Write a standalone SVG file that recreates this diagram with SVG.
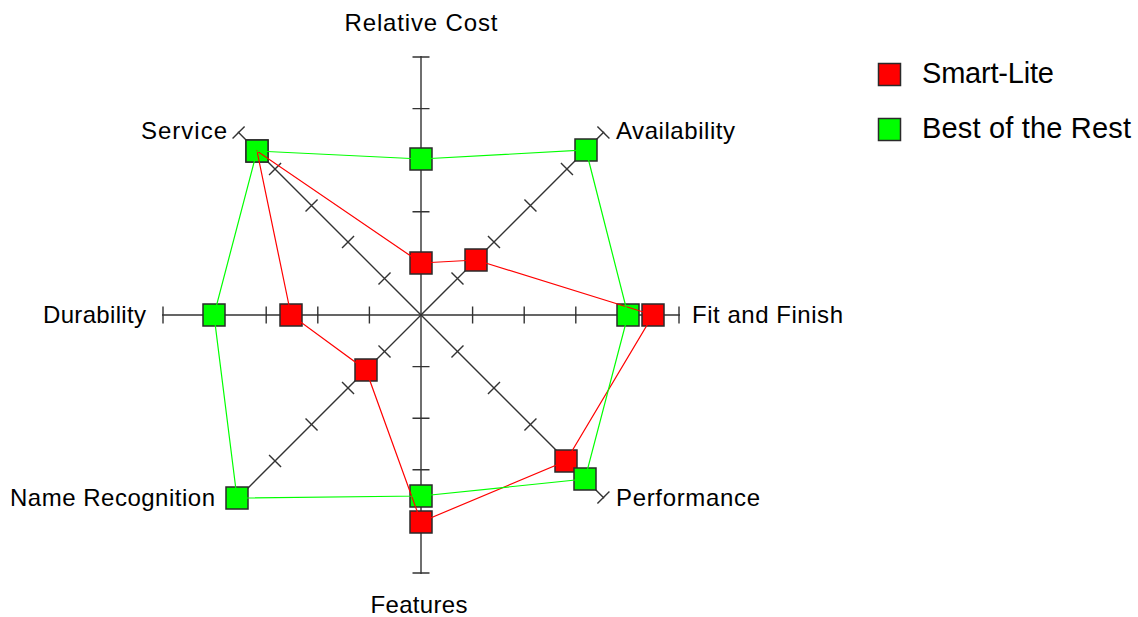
<svg xmlns="http://www.w3.org/2000/svg" xmlns:xlink="http://www.w3.org/1999/xlink" width="1138" height="617" viewBox="0 0 1138 617">
  <style>
    .axis { stroke: #333; stroke-width: 1.4; fill: none; }
    .lbl { font-family: "Liberation Sans", Arial, sans-serif; font-size: 24px; fill: #000; }
    .leg { font-family: "Liberation Sans", Arial, sans-serif; font-size: 29px; fill: #000; }
    .mk { stroke: #2a2a2a; stroke-width: 1.5; }
    .red { fill: #ff0000; }
    .green { fill: #00ff00; }
    .line-red { stroke: #ff0000; stroke-width: 1.2; fill: none; }
    .line-green { stroke: #00ff00; stroke-width: 1.2; fill: none; }
  </style>
  <defs>
    <!-- one spoke: centre to outer radius, five tick marks -->
    <g id="spoke">
      <path class="axis" d="M0,0 V-259 M-8.5,-51.6 H8.5 M-8.5,-103.2 H8.5 M-8.5,-154.8 H8.5 M-8.5,-206.4 H8.5 M-8.5,-258 H8.5"/>
    </g>
    <rect id="sq" x="-11" y="-11" width="22" height="22"/>
  </defs>
  <rect width="1138" height="617" fill="#fff"/>

  <!-- axes -->
  <g id="axis-relative-cost">
    <use xlink:href="#spoke" transform="translate(421,315)"/>
    <text class="lbl" x="421" y="31" text-anchor="middle" textLength="153">Relative Cost</text>
  </g>
  <g id="axis-availability">
    <use xlink:href="#spoke" transform="translate(421,315) rotate(45)"/>
    <text class="lbl" x="616" y="139" textLength="119">Availability</text>
  </g>
  <g id="axis-fit-and-finish">
    <use xlink:href="#spoke" transform="translate(421,315) rotate(90)"/>
    <text class="lbl" x="692" y="323" textLength="151">Fit and Finish</text>
  </g>
  <g id="axis-performance">
    <use xlink:href="#spoke" transform="translate(421,315) rotate(135)"/>
    <text class="lbl" x="616" y="506" textLength="144">Performance</text>
  </g>
  <g id="axis-features">
    <use xlink:href="#spoke" transform="translate(421,315) rotate(180)"/>
    <text class="lbl" x="419" y="613" text-anchor="middle" textLength="97">Features</text>
  </g>
  <g id="axis-name-recognition">
    <use xlink:href="#spoke" transform="translate(421,315) rotate(225)"/>
    <text class="lbl" x="10" y="506" textLength="205">Name Recognition</text>
  </g>
  <g id="axis-durability">
    <use xlink:href="#spoke" transform="translate(421,315) rotate(270)"/>
    <text class="lbl" x="43" y="323" textLength="103">Durability</text>
  </g>
  <g id="axis-service">
    <use xlink:href="#spoke" transform="translate(421,315) rotate(315)"/>
    <text class="lbl" x="141" y="139" textLength="86">Service</text>
  </g>

  <!-- series markers -->
  <g id="markers-smart-lite" class="mk red">
    <use xlink:href="#sq" x="421" y="263"/>
    <use xlink:href="#sq" x="476" y="260"/>
    <use xlink:href="#sq" x="653" y="315"/>
    <use xlink:href="#sq" x="566" y="461"/>
    <use xlink:href="#sq" x="421" y="522"/>
    <use xlink:href="#sq" x="366" y="370"/>
    <use xlink:href="#sq" x="291" y="315"/>
    <use xlink:href="#sq" x="257" y="151"/>
  </g>
  <g id="markers-best-of-the-rest" class="mk green">
    <use xlink:href="#sq" x="421" y="159"/>
    <use xlink:href="#sq" x="586" y="150"/>
    <use xlink:href="#sq" x="628" y="315"/>
    <use xlink:href="#sq" x="585" y="479"/>
    <use xlink:href="#sq" x="421" y="496"/>
    <use xlink:href="#sq" x="237" y="498"/>
    <use xlink:href="#sq" x="214" y="315"/>
    <use xlink:href="#sq" x="257" y="151"/>
  </g>

  <!-- series outlines -->
  <g id="connectors">
    <polygon class="line-red" points="421,263 476,260 653,315 566,461 421,522 366,370 291,315 257,151"/>
    <polygon class="line-green" points="421,159 586,150 628,315 585,479 421,496 237,498 214,315 257,151"/>
  </g>

  <!-- legend -->
  <g id="legend-smart-lite">
    <rect class="mk red" x="878.5" y="63.5" width="22" height="22"/>
    <text class="leg" x="922" y="83" textLength="132">Smart-Lite</text>
  </g>
  <g id="legend-best-of-the-rest">
    <rect class="mk green" x="878.5" y="118.5" width="22" height="22"/>
    <text class="leg" x="922" y="138" textLength="209">Best of the Rest</text>
  </g>
</svg>
